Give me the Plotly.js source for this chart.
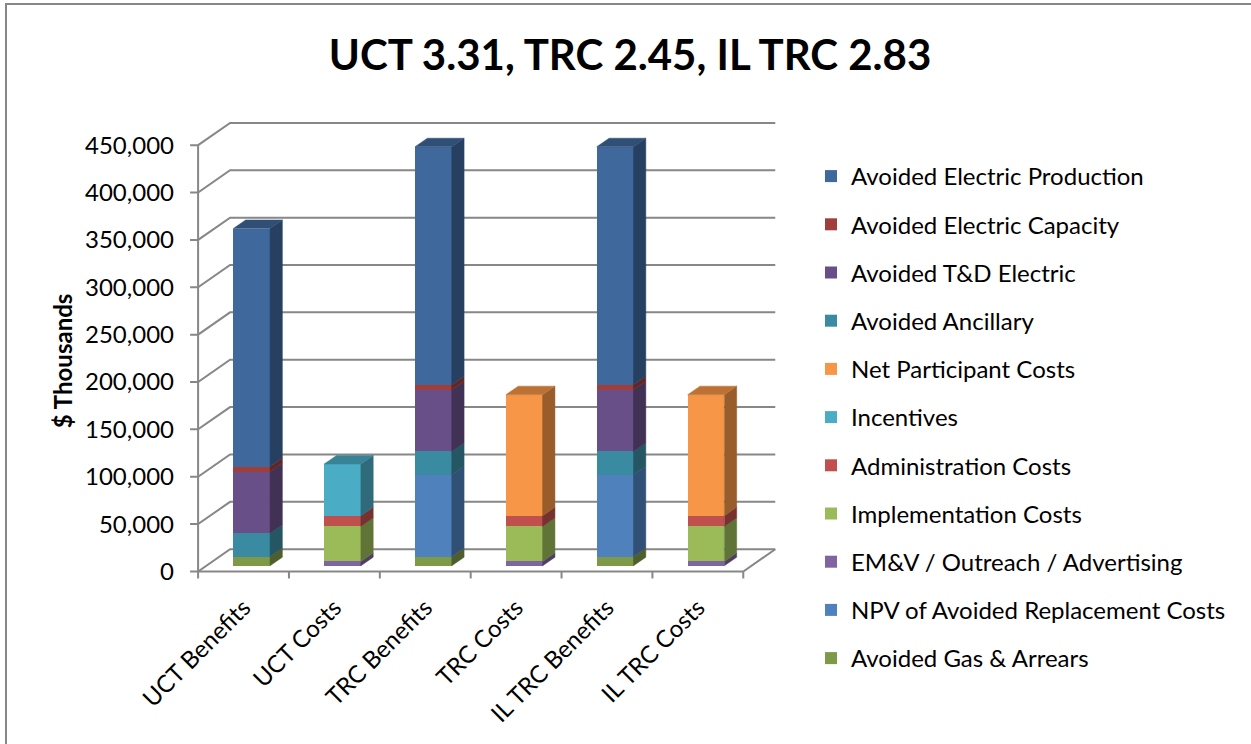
<!DOCTYPE html>
<html>
<head>
<meta charset="utf-8">
<script src="https://cdn.plot.ly/plotly-3.0.1.min.js"></script>
<style>
  html, body { margin: 0; padding: 0; background: #ffffff; }
  #chart { width: 1251px; height: 744px; position: absolute; left: 0; top: 0; }
  #frame { position: absolute; left: 5px; top: 3px; width: 1300px; height: 800px;
           border: 2px solid #878787; pointer-events: none; box-sizing: border-box; }
</style>
</head>
<body>
<div id="chart"></div>
<div id="frame"></div>
<script>
// ---------------- data ----------------
const categories = ['UCT Benefits', 'UCT Costs', 'TRC Benefits', 'TRC Costs', 'IL TRC Benefits', 'IL TRC Costs'];

// series listed in stacking order (bottom to top)
const avoidedGasArrears        = [9800,      0,   9800,      0,   9800,      0];
const npvAvoidedReplacement    = [   0,      0,  86300,      0,  86300,      0];
const emvOutreachAdvertising   = [   0,   4600,      0,   4600,      0,   4600];
const implementationCosts      = [   0,  37000,      0,  37000,      0,  37000];
const administrationCosts      = [   0,  11300,      0,  11300,      0,  11300];
const incentives               = [   0,  54500,      0,      0,      0,      0];
const netParticipantCosts      = [   0,      0,      0, 127700,      0, 127700];
const avoidedAncillary         = [24600,     0,  24600,      0,  24600,      0];
const avoidedTDElectric        = [65000,     0,  65000,      0,  65000,      0];
const avoidedElectricCapacity  = [ 5300,     0,   5300,      0,   5300,      0];
const avoidedElectricProduction= [251300,    0, 251300,      0, 251300,      0];

const seriesNames = ['Avoided Gas & Arrears', 'NPV of Avoided Replacement Costs', 'EM&V / Outreach / Advertising',
  'Implementation Costs', 'Administration Costs', 'Incentives', 'Net Participant Costs', 'Avoided Ancillary',
  'Avoided T&D Electric', 'Avoided Electric Capacity', 'Avoided Electric Production'];
const seriesValues = [avoidedGasArrears, npvAvoidedReplacement, emvOutreachAdvertising, implementationCosts,
  administrationCosts, incentives, netParticipantCosts, avoidedAncillary, avoidedTDElectric,
  avoidedElectricCapacity, avoidedElectricProduction];
const seriesColors = ['#7E9A48', '#4F81BD', '#8064A2', '#9BBB59', '#C0504D', '#4BACC6', '#F79646',
  '#3A8BA2', '#694F87', '#9F3E3B', '#3F689D'];

const yTickValues = [0, 50000, 100000, 150000, 200000, 250000, 300000, 350000, 400000, 450000];
const yTickText = ['0', '50,000', '100,000', '150,000', '200,000', '250,000', '300,000', '350,000', '400,000', '450,000'];

// ---------------- pseudo-3D geometry (oblique projection) ----------------
const DX = 0.352;      // depth offset in category units (back wall)
const DY = 23500;      // depth offset in value units (back wall)
const D0 = 0.255;      // bar front depth
const D1 = 0.64;       // bar back depth
const BAR_W = 0.404;
const TICK_X = 0.088;  // tick length in category units
const TICK_Y = 7400;   // tick length in value units
const n = categories.length;
const xLeft = -0.5, xRight = n - 0.5;

function shade(hex, f) {
  const r = parseInt(hex.substr(1, 2), 16), g = parseInt(hex.substr(3, 2), 16), b = parseInt(hex.substr(5, 2), 16);
  return 'rgb(' + Math.round(r * f) + ',' + Math.round(g * f) + ',' + Math.round(b * f) + ')';
}

const barTraces = [];
const faceTraces = [];
const cum = new Array(n).fill(0);
const ddx = (D1 - D0) * DX, ddy = (D1 - D0) * DY;

// topmost non-zero series per category
const topIdx = [];
for (let i = 0; i < n; i++) {
  let t = -1;
  seriesValues.forEach((vals, s) => { if (vals[i] > 0) t = s; });
  topIdx.push(t);
}

seriesValues.forEach((vals, s) => {
  const xs = [], bases = [];
  const sx = [], sy = [], tx = [], ty = [];
  for (let i = 0; i < n; i++) {
    const xc = i + D0 * DX;
    const yb = cum[i] + D0 * DY;
    xs.push(xc);
    bases.push(yb);
    if (vals[i] > 0) {
      const xr = xc + BAR_W / 2, xl = xc - BAR_W / 2, yt = yb + vals[i];
      sx.push(xr, xr + ddx, xr + ddx, xr, xr, null);
      sy.push(yb, yb + ddy, yt + ddy, yt, yb, null);
      if (topIdx[i] === s) {
        tx.push(xl, xr, xr + ddx, xl + ddx, xl, null);
        ty.push(yt, yt, yt + ddy, yt + ddy, yt, null);
      }
    }
    cum[i] += vals[i];
  }
  barTraces.push({
    type: 'bar', name: seriesNames[s], x: xs, y: vals, base: bases, width: BAR_W,
    marker: { color: seriesColors[s], line: { width: 0 } },
    legendgroup: 'g' + s, hoverinfo: 'skip'
  });
  faceTraces.push({
    type: 'scatter', mode: 'lines', x: sx, y: sy, fill: 'toself', fillcolor: shade(seriesColors[s], 0.62),
    line: { width: 0.5, color: shade(seriesColors[s], 0.62) }, showlegend: false, hoverinfo: 'skip'
  });
  if (tx.length) {
    faceTraces.push({
      type: 'scatter', mode: 'lines', x: tx, y: ty, fill: 'toself', fillcolor: shade(seriesColors[s], 0.76),
      line: { width: 0.5, color: shade(seriesColors[s], 0.76) }, showlegend: false, hoverinfo: 'skip'
    });
  }
});
// legend lists the top series first
barTraces.reverse();

// ---------------- walls, gridlines, ticks as shapes ----------------
const gridColor = '#878787';
const shapes = [];
yTickValues.forEach(v => {
  shapes.push({
    type: 'path', layer: 'below', xref: 'x', yref: 'y',
    path: 'M' + (xLeft - TICK_X) + ',' + v + ' L' + xLeft + ',' + v + ' L' + (xLeft + DX) + ',' + (v + DY) +
          ' L' + (xRight + DX) + ',' + (v + DY),
    line: { color: gridColor, width: 2 }
  });
});
// front axis
shapes.push({
  type: 'path', layer: 'below', xref: 'x', yref: 'y',
  path: 'M' + xLeft + ',0 L' + xLeft + ',' + yTickValues[yTickValues.length - 1],
  line: { color: gridColor, width: 2 }
});
// front floor edge + right diagonal
shapes.push({
  type: 'path', layer: 'below', xref: 'x', yref: 'y',
  path: 'M' + xLeft + ',0 L' + xRight + ',0 L' + (xRight + DX) + ',' + DY,
  line: { color: gridColor, width: 2 }
});
// category boundary ticks
for (let i = 0; i <= n; i++) {
  const b = xLeft + i;
  shapes.push({
    type: 'path', layer: 'below', xref: 'x', yref: 'y',
    path: 'M' + b + ',0 L' + b + ',' + (-TICK_Y),
    line: { color: gridColor, width: 2 }
  });
}

const FONT = 'Lato, "Open Sans", "DejaVu Sans", sans-serif';

const layout = {
  width: 1251, height: 744,
  margin: { l: 189, r: 473, t: 121, b: 164 },
  paper_bgcolor: '#ffffff', plot_bgcolor: 'rgba(0,0,0,0)',
  barmode: 'overlay',
  bargap: 0,
  showlegend: true,
  title: {
    text: '<b>UCT 3.31, TRC 2.45, IL TRC 2.83</b>',
    font: { family: FONT, size: 42, color: '#000000' },
    x: 630 / 1251, xanchor: 'center', xref: 'container',
    y: 1 - 55 / 744, yanchor: 'middle', yref: 'container'
  },
  xaxis: {
    type: 'linear',
    range: [xLeft - 0.1, xRight + DX + 0.03],
    tickvals: categories.map((c, i) => i),
    ticktext: categories,
    tickangle: -45,
    ticks: '', showgrid: false, zeroline: false, showline: false,
    tickfont: { family: FONT, size: 24, color: '#000000' },
    ticklabelstandoff: 8,
    fixedrange: true
  },
  yaxis: {
    range: [-9000, yTickValues[yTickValues.length - 1] + DY + 2000],
    tickvals: yTickValues, ticktext: yTickText,
    ticks: '', showgrid: false, zeroline: false, showline: false,
    tickfont: { family: FONT, size: 24, color: '#000000' },
    ticklabelstandoff: 14,
    fixedrange: true
  },
  legend: {
    traceorder: 'grouped',
    tracegroupgap: 14,
    xref: 'container', yref: 'container',
    x: 811 / 1251, xanchor: 'left',
    y: 1 - 154 / 744, yanchor: 'top',
    maxheight: 700,
    font: { family: FONT, size: 24, color: '#000000' },
    bgcolor: 'rgba(0,0,0,0)', borderwidth: 0
  },
  annotations: [{
    text: '<b>$ Thousands</b>', textangle: -90,
    xref: 'paper', x: (62 - 189) / (1251 - 189 - 473), xanchor: 'center',
    yref: 'y', y: yTickValues[yTickValues.length - 1] / 2 - 3000, yanchor: 'middle',
    showarrow: false,
    font: { family: FONT, size: 24, color: '#000000' }
  }],
  shapes: shapes
};

Plotly.newPlot('chart', barTraces.concat(faceTraces), layout, { displayModeBar: false, staticPlot: true });
</script>
</body>
</html>
